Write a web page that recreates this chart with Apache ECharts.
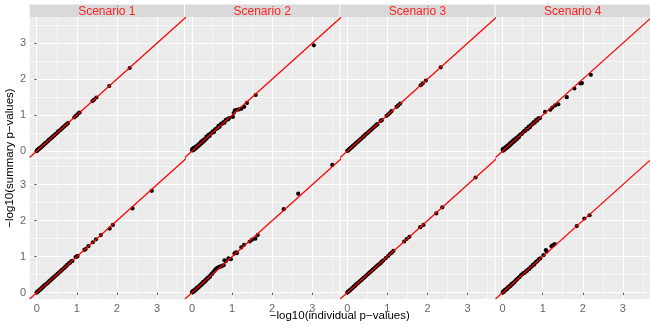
<!DOCTYPE html>
<html>
<head>
<meta charset="utf-8">
<style>
  html, body { margin: 0; padding: 0; background: #ffffff; }
  #chart { width: 650px; height: 326px; }
</style>
<script src="https://cdn.jsdelivr.net/npm/echarts@6/dist/echarts.min.js"></script>
</head>
<body>
<div id="chart"></div>
<script>
// Facet labels and axis ticks
const scenarios = ['Scenario 1', 'Scenario 2', 'Scenario 3', 'Scenario 4'];
const majorTicks = [0, 1, 2, 3];
const minorTicks = [0.5, 1.5, 2.5, 3.5];
const xRange = [-0.175, 3.675];
const yRange = [-0.1775, 3.7275];
const xTitle = '\u2212log10(individual p\u2212values)';
const yTitle = '\u2212log10(summary p\u2212values)';

// Upper row: [individual, summary] pairs per scenario
const top1 = [[0.00,0.00],[0.01,0.02],[0.02,0.03],[0.04,0.04],[0.05,0.06],[0.07,0.07],[0.08,0.09],[0.10,0.10],[0.12,0.12],[0.14,0.14],[0.16,0.16],[0.18,0.18],[0.20,0.21],[0.22,0.22],[0.24,0.24],[0.27,0.27],[0.29,0.29],[0.31,0.32],[0.34,0.34],[0.36,0.36],[0.39,0.39],[0.41,0.41],[0.44,0.44],[0.46,0.46],[0.49,0.49],[0.52,0.52],[0.54,0.55],[0.57,0.57],[0.60,0.60],[0.63,0.63],[0.66,0.66],[0.69,0.69],[0.72,0.72],[0.75,0.75],[0.78,0.78],[0.94,0.94],[0.97,0.97],[1.00,1.00],[1.04,1.05],[1.07,1.07],[1.39,1.39],[1.43,1.43],[1.49,1.49],[1.81,1.81],[2.32,2.31]];
const top2 = [[0.00,0.03],[0.01,0.06],[0.02,0.02],[0.03,0.07],[0.04,0.04],[0.05,0.09],[0.06,0.05],[0.08,0.11],[0.09,0.08],[0.11,0.13],[0.12,0.10],[0.14,0.16],[0.16,0.14],[0.18,0.20],[0.20,0.18],[0.22,0.25],[0.24,0.22],[0.26,0.29],[0.29,0.27],[0.31,0.33],[0.34,0.32],[0.36,0.40],[0.38,0.37],[0.41,0.45],[0.44,0.42],[0.46,0.49],[0.49,0.50],[0.52,0.55],[0.55,0.53],[0.57,0.60],[0.60,0.62],[0.63,0.63],[0.66,0.70],[0.69,0.68],[0.72,0.75],[0.75,0.76],[0.78,0.80],[0.81,0.79],[0.84,0.86],[0.87,0.88],[0.90,0.88],[0.93,0.92],[1.02,0.95],[1.04,1.06],[1.07,1.13],[1.12,1.15],[1.17,1.16],[1.23,1.18],[1.30,1.23],[1.37,1.34],[1.59,1.56],[3.04,2.94]];
const top3 = [[0.00,0.01],[0.01,0.01],[0.03,0.03],[0.04,0.04],[0.06,0.06],[0.07,0.08],[0.09,0.09],[0.11,0.11],[0.13,0.13],[0.15,0.15],[0.17,0.17],[0.19,0.19],[0.21,0.21],[0.23,0.24],[0.26,0.26],[0.28,0.28],[0.30,0.30],[0.33,0.33],[0.35,0.35],[0.38,0.38],[0.40,0.40],[0.43,0.43],[0.45,0.46],[0.48,0.48],[0.51,0.51],[0.54,0.54],[0.57,0.57],[0.60,0.60],[0.63,0.63],[0.66,0.66],[0.69,0.69],[0.72,0.72],[0.75,0.75],[0.83,0.84],[0.86,0.86],[0.98,0.98],[1.02,1.02],[1.06,1.06],[1.10,1.11],[1.23,1.23],[1.27,1.27],[1.32,1.32],[1.83,1.83],[1.88,1.88],[1.96,1.96],[2.33,2.33]];
const top4 = [[0.00,0.04],[0.01,0.01],[0.02,0.07],[0.03,0.03],[0.05,0.08],[0.06,0.05],[0.08,0.11],[0.09,0.08],[0.11,0.14],[0.12,0.10],[0.14,0.17],[0.16,0.14],[0.18,0.21],[0.19,0.17],[0.21,0.24],[0.23,0.21],[0.25,0.28],[0.27,0.25],[0.29,0.32],[0.31,0.29],[0.34,0.36],[0.36,0.34],[0.39,0.41],[0.41,0.39],[0.44,0.46],[0.47,0.47],[0.50,0.51],[0.53,0.55],[0.56,0.56],[0.59,0.62],[0.62,0.61],[0.65,0.68],[0.68,0.66],[0.71,0.73],[0.74,0.74],[0.77,0.80],[0.80,0.79],[0.83,0.86],[0.86,0.85],[0.89,0.91],[0.93,0.91],[1.06,1.09],[1.19,1.15],[1.24,1.21],[1.31,1.27],[1.39,1.30],[1.60,1.50],[1.79,1.74],[1.94,1.88],[1.98,1.89],[2.20,2.12]];

// Lower row: [individual, summary] pairs per scenario
const bot1 = [[0.00,0.00],[0.01,0.01],[0.02,0.03],[0.04,0.04],[0.05,0.05],[0.07,0.07],[0.09,0.09],[0.11,0.11],[0.13,0.13],[0.15,0.15],[0.17,0.17],[0.19,0.20],[0.21,0.21],[0.24,0.24],[0.26,0.26],[0.28,0.28],[0.31,0.31],[0.33,0.33],[0.36,0.36],[0.38,0.38],[0.41,0.41],[0.43,0.43],[0.46,0.46],[0.49,0.49],[0.52,0.52],[0.55,0.55],[0.58,0.58],[0.61,0.61],[0.64,0.64],[0.67,0.67],[0.70,0.70],[0.73,0.73],[0.76,0.77],[0.80,0.81],[0.83,0.83],[0.86,0.87],[0.89,0.88],[0.97,0.99],[1.00,1.00],[1.02,1.02],[1.19,1.19],[1.22,1.21],[1.29,1.29],[1.40,1.40],[1.48,1.48],[1.60,1.60],[1.82,1.78],[1.90,1.88],[2.39,2.34],[2.87,2.83]];
const bot2 = [[0.00,0.01],[0.01,0.03],[0.02,0.01],[0.03,0.05],[0.04,0.03],[0.06,0.07],[0.07,0.05],[0.09,0.10],[0.10,0.08],[0.12,0.13],[0.14,0.12],[0.16,0.17],[0.18,0.16],[0.20,0.21],[0.22,0.20],[0.24,0.25],[0.26,0.24],[0.28,0.30],[0.31,0.29],[0.33,0.35],[0.35,0.34],[0.38,0.40],[0.40,0.39],[0.43,0.45],[0.45,0.44],[0.48,0.51],[0.50,0.52],[0.53,0.57],[0.56,0.60],[0.58,0.64],[0.61,0.67],[0.64,0.69],[0.67,0.71],[0.70,0.72],[0.73,0.73],[0.76,0.75],[0.79,0.76],[0.81,0.90],[0.84,0.87],[0.91,0.95],[0.97,0.93],[1.06,1.09],[1.10,1.12],[1.12,1.10],[1.23,1.26],[1.30,1.33],[1.44,1.42],[1.50,1.47],[1.58,1.50],[1.64,1.60],[2.29,2.32],[2.65,2.75],[3.50,3.55]];
const bot3 = [[0.00,0.00],[0.01,0.02],[0.03,0.03],[0.04,0.04],[0.06,0.06],[0.08,0.08],[0.10,0.10],[0.12,0.12],[0.14,0.14],[0.16,0.16],[0.18,0.18],[0.20,0.20],[0.22,0.23],[0.25,0.25],[0.27,0.27],[0.30,0.30],[0.32,0.32],[0.35,0.35],[0.37,0.37],[0.40,0.40],[0.42,0.42],[0.45,0.45],[0.48,0.48],[0.51,0.51],[0.54,0.54],[0.57,0.57],[0.60,0.60],[0.63,0.63],[0.66,0.66],[0.69,0.69],[0.72,0.72],[0.75,0.75],[0.78,0.78],[0.81,0.80],[0.84,0.83],[0.86,0.86],[0.90,0.90],[0.96,0.96],[1.02,1.02],[1.07,1.08],[1.11,1.11],[1.15,1.16],[1.42,1.42],[1.48,1.49],[1.55,1.55],[1.82,1.82],[1.90,1.88],[2.22,2.20],[2.37,2.37],[3.20,3.20]];
const bot4 = [[0.00,0.00],[0.01,0.02],[0.02,0.01],[0.03,0.04],[0.05,0.05],[0.06,0.08],[0.08,0.07],[0.10,0.11],[0.12,0.11],[0.14,0.15],[0.16,0.15],[0.18,0.19],[0.20,0.19],[0.22,0.24],[0.24,0.23],[0.27,0.28],[0.29,0.28],[0.32,0.33],[0.34,0.35],[0.37,0.38],[0.40,0.42],[0.43,0.44],[0.46,0.49],[0.49,0.51],[0.52,0.54],[0.55,0.55],[0.58,0.59],[0.61,0.61],[0.64,0.65],[0.67,0.66],[0.70,0.71],[0.73,0.73],[0.76,0.78],[0.79,0.78],[0.82,0.84],[0.85,0.86],[0.88,0.89],[0.91,0.93],[0.94,0.95],[1.02,1.04],[1.08,1.18],[1.10,1.14],[1.22,1.29],[1.26,1.32],[1.30,1.35],[1.85,1.85],[2.04,2.06],[2.17,2.15]];

const rows = [[top1, top2, top3, top4], [bot1, bot2, bot3, bot4]];

// Panel geometry (pixels)
const PANEL_LEFT = 29.7, COL_STEP = 155.3, PANEL_W = 154.3;
const ROW_TOPS = [17, 158.5], PANEL_H = 140.5;
const STRIP_TOP = 4.5, STRIP_H = 12.5;

const GRID_BG = '#EBEBEB';
const STRIP_BG = '#D9D9D9';
const TICK_COLOR = '#666666';
const FONT = 'Liberation Sans, Arial, Helvetica, sans-serif';

const grids = [], xAxes = [], yAxes = [], series = [], graphics = [];
const lineLo = Math.min(xRange[0], yRange[0]);
const lineHi = Math.max(xRange[1], yRange[1]);

rows.forEach((row, r) => {
  row.forEach((pts, c) => {
    const p = grids.length;
    grids.push({
      left: PANEL_LEFT + c * COL_STEP, top: ROW_TOPS[r],
      width: PANEL_W, height: PANEL_H,
      show: true, backgroundColor: GRID_BG, borderWidth: 0
    });
    const showX = r === 1, showY = c === 0;
    // major axes: labels, ticks and major grid lines
    xAxes.push({
      gridIndex: p, type: 'value', min: xRange[0], max: xRange[1], position: 'bottom',
      axisLine: { show: false },
      axisTick: { show: showX, length: 2.5, customValues: majorTicks, lineStyle: { color: TICK_COLOR, width: 1 } },
      axisLabel: { show: showX, customValues: majorTicks, margin: 4, color: TICK_COLOR, fontSize: 11, fontFamily: FONT },
      splitLine: { show: true, lineStyle: { color: '#FFFFFF', width: 1.1 } }
    });
    // minor axes: only the half-unit grid lines
    xAxes.push({
      gridIndex: p, type: 'value', min: xRange[0], max: xRange[1], position: 'top',
      axisLine: { show: false },
      axisTick: { show: false, customValues: minorTicks },
      axisLabel: { show: false },
      splitLine: { show: true, lineStyle: { color: '#FFFFFF', width: 0.6 } }
    });
    yAxes.push({
      gridIndex: p, type: 'value', min: yRange[0], max: yRange[1], position: 'left',
      axisLine: { show: false },
      axisTick: { show: showY, length: 2.5, customValues: majorTicks, lineStyle: { color: TICK_COLOR, width: 1 } },
      axisLabel: { show: showY, customValues: majorTicks, margin: 3.5, color: TICK_COLOR, fontSize: 11, fontFamily: FONT },
      splitLine: { show: true, lineStyle: { color: '#FFFFFF', width: 1.1 } }
    });
    yAxes.push({
      gridIndex: p, type: 'value', min: yRange[0], max: yRange[1], position: 'right',
      axisLine: { show: false },
      axisTick: { show: false, customValues: minorTicks },
      axisLabel: { show: false },
      splitLine: { show: true, lineStyle: { color: '#FFFFFF', width: 0.6 } }
    });

    series.push({
      type: 'scatter', xAxisIndex: 2 * p, yAxisIndex: 2 * p,
      data: pts, symbol: 'circle', symbolSize: 4.2,
      itemStyle: { color: '#000000', opacity: 1 },
      z: 3, silent: true
    });
    // identity reference line y = x
    series.push({
      type: 'line', xAxisIndex: 2 * p, yAxisIndex: 2 * p,
      data: [[lineLo, lineLo], [lineHi, lineHi]],
      showSymbol: false, symbol: 'none', clip: true,
      lineStyle: { color: '#FF0000', width: 1.2 },
      z: 4, silent: true
    });
  });
});

// facet strips above the upper row
scenarios.forEach((name, c) => {
  const x0 = PANEL_LEFT + c * COL_STEP;
  graphics.push({
    type: 'rect', shape: { x: x0, y: STRIP_TOP, width: PANEL_W, height: STRIP_H },
    style: { fill: STRIP_BG }, silent: true
  });
  graphics.push({
    type: 'text', x: x0 + PANEL_W / 2, y: STRIP_TOP + STRIP_H / 2 + 0.5,
    style: { text: name, fill: '#FF2020', font: '12px ' + FONT, textAlign: 'center', textVerticalAlign: 'middle' },
    silent: true
  });
});

// axis titles
graphics.push({
  type: 'text', x: PANEL_LEFT + (COL_STEP * 3 + PANEL_W) / 2, y: 315.5,
  style: { text: xTitle, fill: '#000000', font: '11.5px ' + FONT, textAlign: 'center', textVerticalAlign: 'middle' },
  silent: true
});
graphics.push({
  type: 'text', x: 10, y: 158, rotation: Math.PI / 2,
  style: { text: yTitle, fill: '#000000', font: '11.5px ' + FONT, textAlign: 'center', textVerticalAlign: 'middle' },
  silent: true
});

const chart = echarts.init(document.getElementById('chart'), null, { renderer: 'canvas' });
chart.setOption({
  animation: false,
  backgroundColor: '#FFFFFF',
  grid: grids,
  xAxis: xAxes,
  yAxis: yAxes,
  series: series,
  graphic: graphics
});
</script>
</body>
</html>
